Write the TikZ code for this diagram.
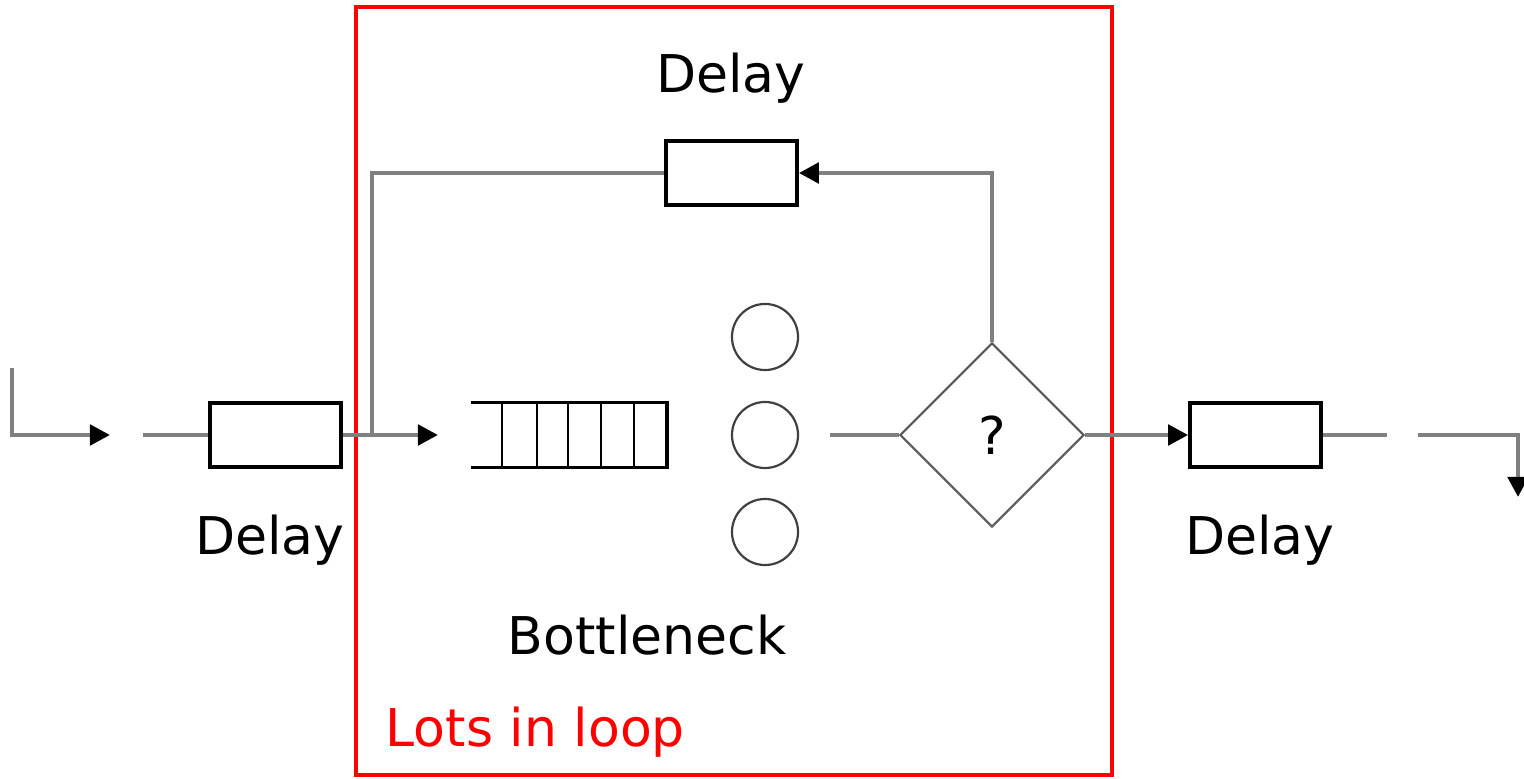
\documentclass[tikz,border=0pt]{standalone}
\usepackage{fontspec}
\setmainfont{DejaVu Sans}
\usetikzlibrary{positioning,arrows.meta,shapes.geometric}
\tikzset{
  delaybox/.style={draw, line width=0.035cm, minimum width=1.31cm,
                   minimum height=0.64cm, inner sep=0pt},
  server/.style={circle, draw=black!75, line width=0.022cm,
                 minimum size=0.66cm, inner sep=0pt},
  decide/.style={diamond, draw=black!65, line width=0.022cm, aspect=1,
                 minimum size=1.84cm, inner sep=0pt, lbl},
  link/.style={draw=black!50, line width=0.048cm},
  flow/.style={link, -{Triangle[length=0.2cm, width=0.2cm, color=black]}},
  lbl/.style={font=\fontsize{14.8}{17}\selectfont},
}
\begin{document}
\begin{tikzpicture}[x=0.01cm, y=-0.01cm]
  \useasboundingbox (0,0) rectangle (1524,779);
  % loop frame
  \draw[red, line width=0.045cm] (356,7) rectangle (1112,775);
  \node[lbl, red, anchor=west, inner sep=0pt] (looplbl) at (385,732) {Lots in loop};

  % blocks on the main line
  \node[delaybox] (inbox) at (275.5,435) {};
  \node[delaybox] (topbox) at (731.5,173) {};
  \node[delaybox] (outbox) at (1255.5,435) {};
  \node[minimum width=1.94cm, minimum height=0.64cm, inner sep=0pt] (queue) at (569,435) {};
  \node[server] (srvA) at (765,337) {};
  \node[server] (srvB) at (765,435) {};
  \node[server] (srvC) at (765,532) {};
  \node[decide] (check) at (992,435) {?};

  % queue slots
  \draw[line width=0.035cm] (queue.north west) -- (queue.north east) -- (queue.south east) -- (queue.south west);
  \foreach \x in {502,537,568,601,634}
    \draw[line width=0.028cm] (\x,403) -- (\x,467);

  % labels
  \node[lbl] (toplbl) at (731,78) {Delay};
  \node[lbl] (inlbl) at (270,540) {Delay};
  \node[lbl] (outlbl) at (1260,540) {Delay};
  \node[lbl] (qlbl) at (647,635) {Bottleneck};

  % connectors
  \coordinate (src) at (12,368);
  \coordinate (gapA) at (110,435);
  \coordinate (gapB) at (143,435);
  \coordinate (split) at (372,435);
  \coordinate (qin) at (438,435);
  \coordinate (srvout) at (830,435);
  \coordinate (gapC) at (1387,435);
  \coordinate (gapD) at (1418,435);
  \coordinate (sink) at (1518,497);

  \draw[flow] (src) |- (gapA);
  \draw[link] (gapB) -- (inbox.west);
  \draw[flow] (inbox.east) -- (qin);
  \draw[link] (split) |- (topbox.west);
  \draw[flow] (check.north) |- (topbox.east);
  \draw[link] (srvout) -- (check.west);
  \draw[flow] (check.east) -- (outbox.west);
  \draw[link] (outbox.east) -- (gapC);
  \draw[flow] (gapD) -| (sink);
\end{tikzpicture}
\end{document}
